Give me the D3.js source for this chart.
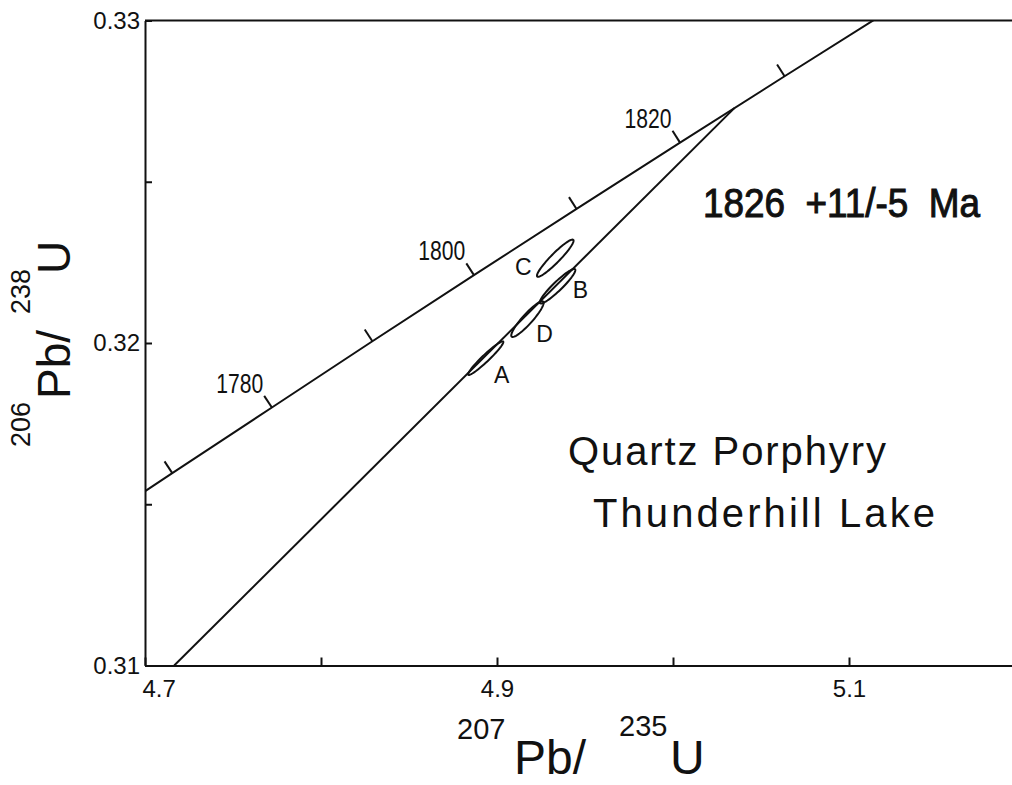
<!DOCTYPE html>
<html>
<head>
<meta charset="utf-8">
<script src="https://cdn.jsdelivr.net/npm/d3@7/dist/d3.min.js"></script>
<style>
body { margin: 0; background: #fff; }
svg { display: block; font-family: 'Liberation Sans', Arial, sans-serif; }
</style>
</head>
<body>
<div id="chart"></div>
<script>
// axis ticks
const xTicks = [4.7, 4.8, 4.9, 5.0, 5.1, 5.2];
const xTickLabels = ['4.7', '', '4.9', '', '5.1', ''];
const yTicks = [0.31, 0.315, 0.32, 0.325, 0.33];
const yTickLabels = ['0.31', '', '0.32', '', '0.33'];

// concordia (age in Ma, 207Pb/235U, 206Pb/238U)
const concAges = [1760, 1770, 1780, 1790, 1800, 1810, 1820, 1830, 1840];
const concX = [4.6595, 4.7155, 4.7721, 4.8292, 4.8869, 4.9452, 5.0040, 5.0634, 5.1234];
const concY = [0.313926, 0.315966, 0.317999, 0.320055, 0.322105, 0.324157, 0.326213, 0.328271, 0.330334];
const tickAges = [1770, 1780, 1790, 1800, 1810, 1820, 1830];
const labelAges = [1780, 1800, 1820];

// discordia, lower end at the axis to upper intercept
const discX = [4.7166, 5.0350];
const discY = [0.3100, 0.32729];

// fractions: ratios, 2 sigma errors, error correlation
const fracNames = ['A', 'B', 'C', 'D'];
const fracX = [4.8936, 4.9344, 4.9331, 4.9173];
const fracSx = [0.0100, 0.0101, 0.0104, 0.0092];
const fracY = [0.31953, 0.32176, 0.32263, 0.32074];
const fracSy = [0.00052, 0.000535, 0.000577, 0.000553];
const fracRho = [0.96, 0.935, 0.94, 0.914];

const ageText = '1826  +11/-5  Ma';
const sampleText = ['Quartz Porphyry', 'Thunderhill Lake'];

const width = 1012, height = 785;
const margin = { top: 20.5, left: 145, bottom: 119.5 };
const plotRight = 1025;

const svg = d3.select('#chart').append('svg')
    .attr('width', width)
    .attr('height', height);

const x = d3.scaleLinear().domain([4.7, 5.2]).range([margin.left, plotRight]);
const y = d3.scaleLinear().domain([0.31, 0.33]).range([height - margin.bottom, margin.top]);

svg.append('clipPath')
    .attr('id', 'plotClip')
  .append('rect')
    .attr('x', x(4.7))
    .attr('y', y(0.33))
    .attr('width', x(5.2) - x(4.7))
    .attr('height', y(0.31) - y(0.33));

// axes
const xAxis = svg.append('g')
    .attr('transform', 'translate(0,' + y(0.31) + ')')
    .call(d3.axisBottom(x)
        .tickValues(xTicks)
        .tickSize(-8)
        .tickSizeOuter(0)
        .tickPadding(14)
        .tickFormat((d, i) => xTickLabels[i]));
xAxis.selectAll('.tick text')
    .filter((d, i) => i === 0)
    .attr('text-anchor', 'start')
    .attr('dx', -3);

const yAxis = svg.append('g')
    .attr('transform', 'translate(' + x(4.7) + ',0)')
    .call(d3.axisLeft(y)
        .tickValues(yTicks)
        .tickSize(-7)
        .tickSizeOuter(0)
        .tickPadding(5)
        .tickFormat((d, i) => yTickLabels[i]));

svg.selectAll('.domain, .tick line')
    .attr('stroke', '#111')
    .attr('stroke-width', 2);
svg.selectAll('.tick text')
    .attr('font-size', 24)
    .attr('font-family', 'Liberation Sans, Arial, sans-serif')
    .attr('fill', '#111');

svg.append('line')
    .attr('x1', x(4.7))
    .attr('x2', x(5.2))
    .attr('y1', y(0.33))
    .attr('y2', y(0.33))
    .attr('stroke', '#111')
    .attr('stroke-width', 2);

// concordia curve
const concPts = concAges.map((a, i) => [x(concX[i]), y(concY[i])]);
const plot = svg.append('g').attr('clip-path', 'url(#plotClip)');

plot.append('path')
    .datum(concPts)
    .attr('d', d3.line().curve(d3.curveNatural))
    .attr('fill', 'none')
    .attr('stroke', '#111')
    .attr('stroke-width', 2);

// discordia
plot.append('path')
    .datum(discX.map((v, i) => [x(v), y(discY[i])]))
    .attr('d', d3.line())
    .attr('fill', 'none')
    .attr('stroke', '#111')
    .attr('stroke-width', 2);

// age ticks, perpendicular to the curve, on the upper-left side
const tickLen = 14;
const ageTicks = tickAges.map(a => {
    let i = concAges.indexOf(a);
    let p0 = concPts[i - 1], p1 = concPts[i + 1];
    let dx = p1[0] - p0[0], dy = p1[1] - p0[1];
    let len = Math.hypot(dx, dy);
    let n = [dy / len, -dx / len];
    let p = concPts[i];
    return { age: a, p: p, q: [p[0] + n[0] * tickLen, p[1] + n[1] * tickLen] };
});

svg.selectAll('.age-tick')
    .data(ageTicks)
    .enter().append('line')
    .classed('age-tick', true)
    .attr('x1', d => d.p[0])
    .attr('y1', d => d.p[1])
    .attr('x2', d => d.q[0])
    .attr('y2', d => d.q[1])
    .attr('stroke', '#111')
    .attr('stroke-width', 2);

// narrow digits, as in the original lettering
svg.selectAll('.age-label')
    .data(ageTicks.filter(d => labelAges.includes(d.age)))
    .enter().append('text')
    .classed('age-label', true)
    .attr('x', d => d.q[0] - 1)
    .attr('y', d => d.q[1] - 3)
    .attr('text-anchor', 'end')
    .attr('font-size', 27)
    .attr('textLength', 47)
    .attr('lengthAdjust', 'spacingAndGlyphs')
    .attr('fill', '#111')
    .text(d => d.age);

// error ellipses
const kx = x(1) - x(0), ky = y(0) - y(1);
const labelOffset = { A: [16, 25], B: [23, 12], C: [-32, 17], D: [17, 23] };

const fracs = fracNames.map((nm, i) => {
    let cx = x(fracX[i]), cy = y(fracY[i]);
    let sx = fracSx[i] * kx, sy = fracSy[i] * ky, r = fracRho[i];
    let pts = d3.range(0, 72).map(k => {
        let t = k / 72 * 2 * Math.PI;
        return [cx + sx * Math.cos(t),
                cy - r * sy * Math.cos(t) + sy * Math.sqrt(1 - r * r) * Math.sin(t)];
    });
    return { name: nm, cx: cx, cy: cy, pts: pts };
});

svg.selectAll('.ellipse')
    .data(fracs)
    .enter().append('path')
    .classed('ellipse', true)
    .attr('d', d => d3.line().curve(d3.curveLinearClosed)(d.pts))
    .attr('fill', 'none')
    .attr('stroke', '#111')
    .attr('stroke-width', 2);

svg.selectAll('.frac-label')
    .data(fracs)
    .enter().append('text')
    .classed('frac-label', true)
    .attr('x', d => d.cx + labelOffset[d.name][0])
    .attr('y', d => d.cy + labelOffset[d.name][1])
    .attr('text-anchor', 'middle')
    .attr('font-size', 23)
    .attr('fill', '#111')
    .text(d => d.name);

// annotations
svg.append('text')
    .attr('x', 703)
    .attr('y', 217)
    .attr('font-size', 40)
    .attr('fill', '#111')
    .attr('stroke', '#111')
    .attr('stroke-width', 1)
    .attr('textLength', 277)
    .attr('lengthAdjust', 'spacingAndGlyphs')
    .style('white-space', 'pre')
    .text(ageText);

const sampleX = [568, 593], sampleW = [318, 342];
svg.selectAll('.sample')
    .data(sampleText)
    .enter().append('text')
    .classed('sample', true)
    .attr('x', (d, i) => sampleX[i])
    .attr('y', (d, i) => i === 0 ? 465 : 527)
    .attr('font-size', 40)
    .attr('textLength', (d, i) => sampleW[i])
    .attr('lengthAdjust', 'spacing')
    .attr('fill', '#111')
    .text(d => d);

// axis titles
const xTitle = svg.append('text').attr('fill', '#111');
xTitle.append('tspan').attr('x', 457).attr('y', 739).attr('font-size', 29).text('207');
xTitle.append('tspan').attr('x', 514).attr('y', 774).attr('font-size', 48).text('Pb/');
xTitle.append('tspan').attr('x', 619).attr('y', 736).attr('font-size', 29).text('235');
xTitle.append('tspan').attr('x', 670).attr('y', 774).attr('font-size', 48).text('U');

const yTitle = svg.append('text').attr('fill', '#111')
    .attr('transform', 'rotate(-90)');
yTitle.append('tspan').attr('x', -447).attr('y', 30).attr('font-size', 27).text('206');
yTitle.append('tspan').attr('x', -399).attr('y', 70).attr('font-size', 46).text('Pb/');
yTitle.append('tspan').attr('x', -314).attr('y', 30).attr('font-size', 27).text('238');
yTitle.append('tspan').attr('x', -274).attr('y', 70).attr('font-size', 46).text('U');
</script>
</body>
</html>
